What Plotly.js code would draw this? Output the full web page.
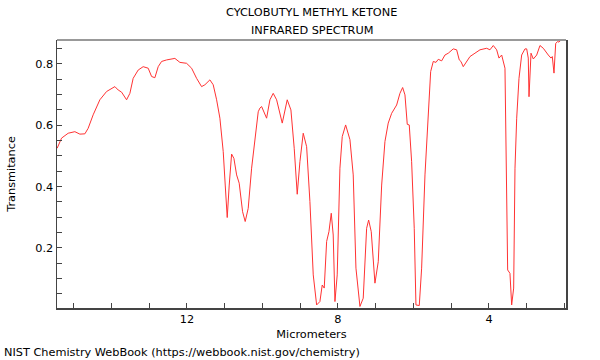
<!DOCTYPE html>
<html>
<head>
<meta charset="utf-8">
<script src="https://cdn.plot.ly/plotly-3.0.1.min.js"></script>
<style>html,body{margin:0;padding:0;background:#fff;}#chart{width:600px;height:360px;}</style>
</head>
<body>
<div id="chart"></div>
<script>
// Wavelength in micrometers
var micrometers = [
15.436,15.319,15.144,14.967,14.834,14.702,14.615,14.482,14.305,14.127,
13.907,13.820,13.730,13.597,13.510,13.423,13.290,13.158,13.025,12.935,
12.848,12.760,12.670,12.583,12.538,12.318,12.185,12.008,11.875,11.743,
11.611,11.523,11.391,11.303,11.213,11.126,11.038,10.985,10.932,10.879,
10.816,10.755,10.683,10.615,10.525,10.456,10.376,10.286,10.199,10.111,
10.066,10.021,9.889,9.801,9.714,9.624,9.475,9.343,9.245,9.158,
9.078,9.007,8.919,8.829,8.742,8.654,8.564,8.477,8.416,8.363,
8.299,8.238,8.177,8.125,8.079,8.019,7.947,7.886,7.796,7.682,
7.595,7.550,7.523,7.417,7.330,7.240,7.187,7.118,7.020,6.932,
6.842,6.755,6.668,6.577,6.445,6.358,6.286,6.225,6.164,6.111,
6.048,5.979,5.934,5.846,5.783,5.695,5.608,5.544,5.475,5.404,
5.343,5.253,5.166,5.078,4.946,4.856,4.787,4.742,4.681,4.591,
4.503,4.371,4.238,4.061,3.974,3.886,3.796,3.735,3.664,3.576,
3.550,3.523,3.505,3.444,3.399,3.346,3.311,3.266,3.205,3.134,
3.046,3.001,2.959,2.940,2.887,2.826,2.736,2.649,2.561,2.429,
2.358,2.323,2.278,2.233,2.180,2.146,2.093,1.968
];
// Transmittance
var transmittance = [
0.525,0.558,0.574,0.579,0.571,0.572,0.590,0.634,0.683,0.710,
0.726,0.715,0.708,0.683,0.704,0.753,0.780,0.791,0.786,0.759,
0.755,0.791,0.808,0.813,0.813,0.818,0.805,0.802,0.786,0.753,
0.726,0.732,0.748,0.732,0.683,0.623,0.514,0.405,0.299,0.405,
0.506,0.492,0.438,0.411,0.318,0.286,0.329,0.460,0.555,0.644,
0.656,0.661,0.623,0.683,0.704,0.683,0.607,0.683,0.650,0.525,
0.375,0.481,0.574,0.530,0.351,0.112,0.014,0.025,0.079,0.069,
0.221,0.253,0.313,0.242,0.025,0.112,0.460,0.563,0.601,0.553,
0.438,0.286,0.134,0.009,0.036,0.264,0.291,0.253,0.085,0.155,
0.405,0.547,0.607,0.639,0.666,0.704,0.723,0.699,0.603,0.601,
0.481,0.264,0.014,0.012,0.134,0.438,0.644,0.775,0.808,0.805,
0.815,0.810,0.829,0.835,0.849,0.846,0.813,0.808,0.791,0.808,
0.824,0.835,0.846,0.851,0.846,0.860,0.846,0.819,0.829,0.786,
0.568,0.242,0.128,0.117,0.014,0.069,0.460,0.623,0.753,0.829,
0.849,0.849,0.819,0.693,0.835,0.816,0.829,0.860,0.851,0.829,
0.819,0.824,0.770,0.867,0.873,0.871,0.878,0.879
];
var titleLines = ["CYCLOBUTYL METHYL KETONE", "INFRARED SPECTRUM"];
var xTitle = "Micrometers";
var yTitle = "Transmitance";
var footer = "NIST Chemistry WebBook (https://webbook.nist.gov/chemistry)";

var font = "DejaVu Sans, sans-serif";
var fs = 11.3;
var trace = {
  x: micrometers, y: transmittance, type: "scatter", mode: "lines",
  line: {color: "rgb(255,50,50)", width: 1}, hoverinfo: "skip"
};
var layout = {
  width: 600, height: 360,
  margin: {l: 57, r: 34, t: 40, b: 52},
  paper_bgcolor: "#fff", plot_bgcolor: "#fff",
  showlegend: false,
  font: {family: font, size: fs, color: "#000"},
  xaxis: {
    range: [15.44, 1.96], showgrid: false, zeroline: false,
    showline: true, linecolor: "#444", linewidth: 1.5,
    ticks: "inside", ticklen: 5, tickcolor: "#444", tickwidth: 1,
    tickvals: [12, 8, 4], ticktext: ["12", "8", "4"],
    minor: {tickvals: [15,14,13,11,10,9,7,6,5,3,2], ticks: "inside", ticklen: 5, tickcolor: "#444"},
    tickfont: {family: font, size: fs},
    title: {text: xTitle, font: {family: font, size: fs}, standoff: 5}
  },
  yaxis: {
    range: [0.004, 0.878], showgrid: false, zeroline: false,
    showline: true, mirror: true, linecolor: "#444", linewidth: 1.5,
    ticks: "inside", ticklen: 5, tickcolor: "#444", tickwidth: 1,
    tickvals: [0.2, 0.4, 0.6, 0.8], ticktext: ["0.2", "0.4", "0.6", "0.8"],
    minor: {tickvals: [0.05,0.1,0.15,0.25,0.3,0.35,0.45,0.5,0.55,0.65,0.7,0.75,0.85], ticks: "inside", ticklen: 5, tickcolor: "#444"},
    tickfont: {family: font, size: fs},
    title: {text: yTitle, font: {family: font, size: fs}, standoff: 17}
  },
  shapes: [{
    type: "line", xref: "paper", yref: "paper", x0: 0, x1: 1, y0: 1, y1: 1,
    line: {color: "#999", width: 2}
  }],
  annotations: [
    {text: titleLines[0], xref: "paper", yref: "paper", x: 0.5, y: 1, yshift: 28, showarrow: false, xanchor: "center", yanchor: "middle", font: {family: font, size: fs}},
    {text: titleLines[1], xref: "paper", yref: "paper", x: 0.5, y: 1, yshift: 10, showarrow: false, xanchor: "center", yanchor: "middle", font: {family: font, size: fs}},
    {text: footer, xref: "paper", yref: "paper", x: 0, y: 0, xshift: -55, yshift: -44, showarrow: false, xanchor: "left", yanchor: "middle", font: {family: font, size: fs}}
  ]
};
Plotly.newPlot("chart", [trace], layout, {displayModeBar: false, staticPlot: true});
</script>
</body>
</html>
